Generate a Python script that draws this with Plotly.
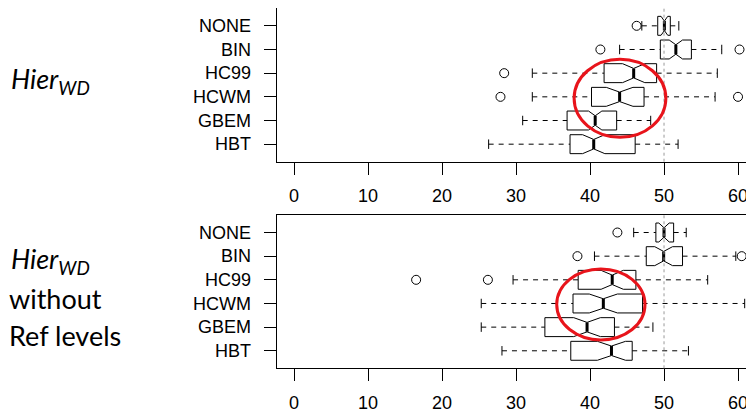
import plotly.graph_objects as go

categories = ["NONE", "BIN", "HC99", "HCWM", "GBEM", "HBT"]

# Top panel: Hier_WD
top_low = [47.0, 44.0, 32.2, 32.2, 30.9, 26.3]
top_q1 = [49.15, 49.5, 41.9, 40.2, 36.9, 37.3]
top_med = [50.05, 51.6, 45.9, 44.0, 40.7, 40.5]
top_q3 = [50.85, 53.7, 49.0, 47.3, 43.6, 46.1]
top_high = [52.0, 57.8, 57.2, 56.9, 48.2, 51.9]
top_notch = [0.45, 0.9, 1.5, 1.8, 0.9, 1.5]
top_out = [[46.3], [41.4, 60.2], [28.4], [27.9, 60.0], [], []]

# Bottom panel: Hier_WD without Ref levels
bot_low = [45.9, 40.6, 29.6, 25.3, 25.3, 28.1]
bot_q1 = [48.9, 47.6, 38.4, 37.7, 33.9, 37.4]
bot_med = [50.0, 49.95, 43.0, 41.8, 39.6, 42.9]
bot_q3 = [51.3, 52.5, 46.2, 47.1, 43.3, 45.7]
bot_high = [53.0, 59.7, 55.9, 60.9, 48.5, 53.3]
bot_notch = [0.7, 1.2, 1.5, 1.9, 1.8, 1.9]
bot_out = [[43.7], [38.3, 60.5], [16.5, 26.2], [], [], []]

x_ticks = [0, 10, 20, 30, 40, 50, 60]

FONT = "Liberation Sans, Arial, sans-serif"
W = 0.4  # half box width (boxwex 0.8)

fig = go.Figure()


def add_panel(low, q1, med, q3, high, notch, outs, xa, ya):
    n = len(categories)
    bx, by, mx, my, wx, wy, cx, cy, ox, oy = [], [], [], [], [], [], [], [], [], []
    for i in range(n):
        p = n - i
        lo_c = med[i] - notch[i]
        hi_c = med[i] + notch[i]
        bx += [q1[i], lo_c, med[i], hi_c, q3[i], q3[i], hi_c, med[i], lo_c, q1[i], q1[i], None]
        by += [p - W, p - W, p - W / 2, p - W, p - W, p + W, p + W, p + W / 2, p + W, p + W, p - W, None]
        mx += [med[i], med[i], None]
        my += [p - W / 2, p + W / 2, None]
        wx += [low[i], q1[i], None, q3[i], high[i], None]
        wy += [p, p, None, p, p, None]
        cx += [low[i], low[i], None, high[i], high[i], None]
        cy += [p - W / 2, p + W / 2, None, p - W / 2, p + W / 2, None]
        for o in outs[i]:
            ox.append(o)
            oy.append(p)
    common = dict(xaxis=xa, yaxis=ya, showlegend=False, hoverinfo="skip")
    fig.add_trace(go.Scatter(x=wx, y=wy, mode="lines",
                             line=dict(color="black", width=1, dash="5px,5px"), **common))
    fig.add_trace(go.Scatter(x=cx, y=cy, mode="lines",
                             line=dict(color="black", width=1), **common))
    fig.add_trace(go.Scatter(x=bx, y=by, mode="lines",
                             line=dict(color="black", width=1), **common))
    fig.add_trace(go.Scatter(x=mx, y=my, mode="lines",
                             line=dict(color="black", width=3), **common))
    fig.add_trace(go.Scatter(x=ox, y=oy, mode="markers",
                             marker=dict(symbol="circle-open", size=9, color="black",
                                         line=dict(width=1, color="black")), **common))


add_panel(top_low, top_q1, top_med, top_q3, top_high, top_notch, top_out, "x", "y")
add_panel(bot_low, bot_q1, bot_med, bot_q3, bot_high, bot_notch, bot_out, "x2", "y2")

# the page body has an 8px margin: size the figure to the visible area
OFF = 8
FW, FH = 754 - OFF, 413 - OFF


def px(v):
    return (v - OFF) / FW


def py(v):
    return 1 - (v - OFF) / FH


xdom = [px(276.7), 1.0]
xrange_ = [-2.34, 62.16]
yrange_ = [0.26, 6.74]

xax = dict(range=xrange_, domain=xdom, showline=True, linecolor="black", linewidth=1,
           mirror=True, ticks="outside", ticklen=12, tickcolor="black", tickwidth=1,
           tickvals=x_ticks, ticktext=[str(t) for t in x_ticks], showgrid=False,
           zeroline=False, tickfont=dict(family=FONT, size=18, color="black"),
           ticklabelstandoff=6, fixedrange=True, automargin=False)
yax = dict(range=yrange_, showline=True, linecolor="black", linewidth=1, mirror=False,
           ticks="outside", ticklen=12, tickcolor="black", tickwidth=1,
           tickvals=[6 - i for i in range(len(categories))], ticktext=categories,
           showgrid=False, zeroline=False,
           tickfont=dict(family=FONT, size=18, color="black"), ticklabelstandoff=9,
           fixedrange=True, automargin=False)

fig.update_layout(
    width=FW, height=FH, margin=dict(l=0, r=0, t=0, b=0, autoexpand=False),
    paper_bgcolor="white", plot_bgcolor="white",
    xaxis=dict(xax, anchor="y"),
    yaxis=dict(yax, anchor="x", domain=[py(161.7), py(8.3)]),
    xaxis2=dict(xax, anchor="y2"),
    yaxis2=dict(yax, anchor="x2", domain=[py(368.3), py(215)]),
)

# reference line at 50 and red highlight ellipses
for xa, ya in [("x", "y"), ("x2", "y2")]:
    fig.add_shape(type="line", xref=xa, yref=ya + " domain", x0=50, x1=50, y0=0, y1=1,
                  line=dict(color="#999999", width=1, dash="dot"))
fig.add_shape(type="circle", xref="x", yref="y", x0=37.85, x1=50.25, y0=1.29, y1=4.585,
              line=dict(color="#e8141b", width=3))
fig.add_shape(type="circle", xref="x2", yref="y2", x0=35.5, x1=47.43, y0=1.46, y1=4.46,
              line=dict(color="#e8141b", width=3))

LFONT = dict(family="Lato, sans-serif", size=27, color="black")
labels = [("<i>Hier<sub>WD</sub></i>", 80.5, 9),
          ("<i>Hier<sub>WD</sub></i>", 260.5, 9),
          ("without", 298, 7),
          ("Ref levels", 335, 7)]
for txt, ypx, xpx in labels:
    fig.add_annotation(text=txt, xref="paper", yref="paper", x=px(xpx), y=py(ypx),
                       xanchor="left", yanchor="middle", showarrow=False, font=LFONT)

fig.write_html("out.html")
